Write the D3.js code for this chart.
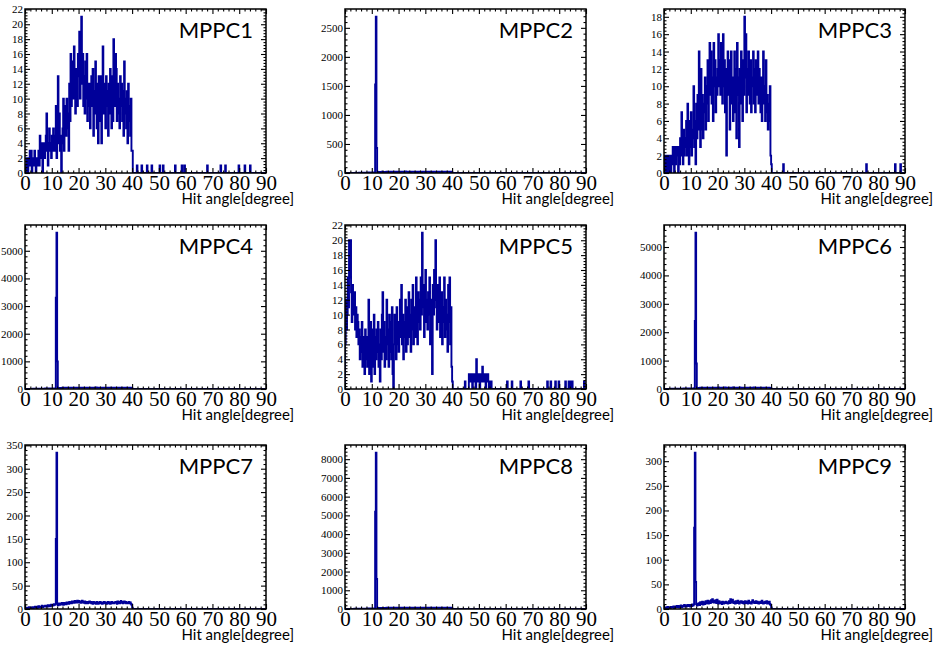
<!DOCTYPE html>
<html>
<head>
<meta charset="utf-8">
<script src="https://cdn.jsdelivr.net/npm/d3@7"></script>
<style>
  html, body { margin: 0; padding: 0; background: #ffffff; }
  svg { display: block; }
</style>
</head>
<body>
<svg id="chart" width="940" height="648"></svg>
<script>
// Hit-angle histograms for nine MPPC channels, 0.25 degree bins over 0-90 degrees.
const binWidth = 0.25;
const xMax = 90;
const xTickLabels = ["0", "10", "20", "30", "40", "50", "60", "70", "80", "90"];
const panelNames = ["MPPC1", "MPPC2", "MPPC3", "MPPC4", "MPPC5", "MPPC6", "MPPC7", "MPPC8", "MPPC9"];
const yMajorSteps = [2, 500, 2, 1000, 2, 1000, 50, 1000, 50];
const axisTitle = "Hit angle[degree]";

// Counts per bin from 0 degrees upward (bins beyond the list are empty).
const mppc1Counts = [
  1,0,2,1, 0,2,1,3, 1,3,0,2, 2,1,3,2, 0,2,1,2,
  3,1,5,2, 2,4,0,3, 4,2,3,5, 8,3,1,4, 6,3,4,2,
  5,3,6,4, 3,5,9,2, 6,13,4,8, 3,5,0,4, 6,10,3,7,
  9,5,10,6, 8,3,12,7, 16,9,11,15, 10,17,12,8, 14,11,9,16,
  13,19,10,14, 21,12,16,9, 13,8,15,10, 16,7,12,9, 12,6,10,13,
  9,14,5,11, 8,15,10,6, 12,4,13,9, 7,13,4,11, 17,8,12,10,
  6,13,9,11, 5,12,8,14, 10,6,13,7, 18,11,9,16, 14,7,12,8,
  10,6,13,9, 12,7,11,5, 15,8,10,6, 11,4,12,7, 9,5,10,3,
  3,0
];
const mppc1SingleHits = [41.75, 43.5, 45.5, 47.25, 50.25, 51.5, 56, 58.5, 59.5, 68, 73, 74.75, 79.75, 82, 84];

const mppc2Counts = [
  1,0,2,1, 0,1,2,0, 1,3,1,2, 2,1,3,2, 4,2,3,1, 3,4,2,5,
  3,4,5,3, 6,4,5,7, 4,6,5,8, 6,5,7,9, 6,8,7,10, 9,1525,2690,430,
  18,14,20,16, 15,19,17,21, 16,20,18,15, 19,17,22,18, 20,16,19,23,
  18,21,17,20, 22,19,24,18, 21,17,20,23, 19,22,18,21, 24,20,22,19,
  18,21,25,20, 22,19,21,17, 20,23,18,22, 19,21,24,20, 22,18,20,23,
  17,21,19,22, 20,24,18,21, 23,19,22,20, 18,22,20,24, 21,19,23,18,
  20,22,17,21, 24,19,21,20, 18,22,19,23, 21,17,20,22, 19,23,18,21,
  22,20,24,19, 17,21,19,22, 20,18,21,15, 4,0
];

const mppc3Counts = [
  2,0,1,2, 0,2,1,0, 2,1,0,2, 1,3,2,0, 3,1,2,3,
  2,0,3,1, 4,2,7,3, 1,5,2,4, 3,6,2,8, 4,1,6,3,
  7,2,5,4, 10,3,6,1, 8,4,9,5, 14,6,3,12, 5,9,4,8,
  7,11,5,10, 8,13,6,12, 15,9,14,8, 11,6,15,10, 13,7,11,9,
  12,16,10,13, 9,15,11,8, 16,10,13,7, 12,2,11,14, 9,13,5,12,
  14,8,11,6, 10,14,7,12, 4,15,9,11, 3,12,8,14, 10,6,13,9,
  18,11,16,7, 12,9,14,10, 8,13,7,11, 10,14,8,12, 7,13,9,11,
  14,8,12,10, 7,11,6,9, 14,8,10,6, 13,7,9,5, 8,6,10,2,
  1,0
];
const mppc3SingleHits = [44.5, 75.5, 86.25, 88.25];

const mppc4Counts = [
  2,1,3,2, 4,2,3,5, 3,6,4,5, 7,5,8,6, 9,7,10,8, 11,9,12,10,
  13,11,14,12, 15,13,16,14, 17,15,18,16, 19,17,20,18, 21,19,22,20, 23,21,3300,5650,
  1000,32,38,35, 40,36,42,38, 44,39,41,45, 42,47,43,40, 46,43,48,44,
  41,45,49,46, 47,44,42,48, 45,50,46,43, 48,44,47,51, 46,49,45,48,
  43,47,50,46, 49,45,48,44, 47,51,46,49, 44,48,45,50, 48,46,52,47,
  45,49,44,48, 50,46,49,45, 47,51,48,44, 46,49,45,50, 48,44,47,51,
  45,49,46,48, 50,47,44,49, 46,50,48,45, 49,45,51,47, 44,48,46,50,
  47,43,49,45, 48,46,44,47, 45,49,43,38, 9,0
];

const mppc5Counts = [
  6,12,8,10, 15,11,20,15, 20,13,9,14, 12,10,13,8, 11,7,10,9,
  6,8,4,7, 5,9,3,7, 6,2,8,4, 7,3,5,12, 2,6,9,1,
  8,3,6,10, 2,7,4,8, 5,9,3,6, 1,8,4,10, 13,5,9,3,
  7,4,12,6, 8,3,10,5, 9,4,11,2, 0,6,10,7, 4,11,6,9,
  5,8,12,7, 14,6,10,4, 9,7,12,5, 11,6,8,13, 7,10,5,12,
  8,14,6,9, 11,7,15,10, 6,13,9,12, 8,15,10,21, 11,14,7,13,
  16,9,12,8, 13,10,15,6, 12,9,2,14, 10,16,12,20, 11,8,14,9,
  12,15,7,10, 13,6,11,9, 15,7,12,8, 10,5,14,9, 15,6,11,3,
  1,0
];
// Second, smaller cluster of hits starting at 46 degrees.
const mppc5BumpStart = 46;
const mppc5BumpCounts = [
  0,2,1,2, 1,2,0,1, 2,1,2,0, 4,1,2,1, 2,0,1,2,
  1,3,2,1, 2,1,0,2, 1,2,1,0, 1,0,1,0
];
const mppc5SingleHits = [44.75, 60.5, 62.25, 65.5, 68.5, 75.5, 76.75, 78.5, 79.75, 82.25, 83.5, 84.25, 84.75, 89.25];

const mppc6Counts = [
  1,3,2,4, 3,2,5,3, 4,6,5,7, 5,8,6,7, 9,8,10,7, 11,10,9,12,
  13,11,12,14, 12,15,14,13, 16,14,17,15, 18,16,17,19, 20,18,21,19, 22,24,2400,5500,
  900,36,40,37, 41,38,43,40, 39,44,41,46, 43,40,45,42, 47,44,41,46,
  43,48,45,42, 46,49,44,47, 50,45,48,43, 46,51,47,44, 49,45,50,47,
  44,48,46,51, 47,43,49,46, 50,47,44,48, 46,49,45,51, 43,47,50,46,
  48,45,49,44, 47,51,46,48, 45,48,44,49, 50,46,48,45, 47,43,49,46,
  44,48,45,50, 49,46,51,47, 45,49,44,48, 47,50,46,43, 48,45,49,46,
  44,47,43,48, 46,42,47,44, 43,47,41,36, 8,0
];

const mppc7Counts = [
  2,3,1,2, 3,2,4,2, 3,1,3,4, 2,4,3,5, 3,4,2,5,
  6,4,5,3, 5,7,4,6, 6,5,7,6, 7,5,8,6, 8,6,7,9,
  7,9,8,10, 9,10,150,334, 12,8,12,10, 9,12,10,13, 11,9,13,10,
  12,10,14,11, 13,11,15,12, 14,12,16,13, 15,13,17,14, 16,14,18,15,
  17,14,16,13, 15,18,14,16, 13,16,12,15, 14,12,15,13, 16,13,15,12,
  14,11,15,13, 12,14,11,15, 13,11,14,12, 15,12,13,11, 14,12,15,13,
  12,14,11,13, 15,12,14,11, 13,15,12,14, 12,14,13,15, 14,11,16,13,
  15,12,14,17, 13,15,12,14, 16,13,15,12, 14,12,13,15, 12,14,11,9,
  3,0
];

const mppc8Counts = [
  3,2,4,3, 5,4,6,3, 7,5,8,6, 9,7,10,8, 11,9,13,10, 14,12,15,13,
  16,14,18,15, 19,17,20,18, 22,19,23,21, 24,22,26,23, 27,25,28,26, 30,5200,8340,1600,
  45,52,48,55, 50,57,53,59, 55,61,58,54, 62,57,64,60, 58,65,61,67,
  63,59,66,62, 68,64,60,66, 62,69,65,61, 67,63,70,66, 64,68,62,69,
  66,61,67,63, 70,65,62,68, 63,67,64,70, 66,62,69,65, 61,68,64,67,
  69,63,66,62, 65,70,64,68, 62,66,69,63, 67,64,61,68, 63,69,65,62,
  68,64,67,70, 62,66,63,69, 65,61,68,64, 69,66,62,67, 63,68,65,61,
  66,62,69,64, 61,67,63,66, 64,60,65,52, 12,0
];

const mppc9Counts = [
  2,3,1,3, 2,4,3,2, 3,2,4,3, 4,3,5,2, 3,5,4,6,
  4,6,5,3, 5,7,4,6, 6,5,8,6, 7,5,6,8, 6,8,7,5,
  8,6,9,7, 9,165,317,55, 10,7,11,9, 12,8,14,10, 11,15,9,13,
  14,10,16,12, 13,17,11,15, 16,12,18,14, 20,15,13,17, 14,18,12,19,
  15,11,16,13, 12,14,10,15, 13,11,14,12, 15,12,13,11, 14,16,12,20,
  17,13,19,14, 12,15,11,16, 14,12,17,13, 11,15,13,16, 14,12,15,11,
  13,16,12,14, 15,11,17,13, 12,14,11,15, 18,13,15,12, 14,16,12,15,
  13,11,14,12, 15,12,17,13, 11,14,12,15, 13,16,11,14, 12,15,10,8,
  3,0
];

const panelCounts = [mppc1Counts, mppc2Counts, mppc3Counts, mppc4Counts, mppc5Counts,
                     mppc6Counts, mppc7Counts, mppc8Counts, mppc9Counts];
const panelSingleHits = [mppc1SingleHits, [], mppc3SingleHits, [], mppc5SingleHits, [], [], [], []];

// Layout of the 3x3 grid of frames
const colLeft = [25, 345, 664];
const rowTop = [9, 225, 445];
const frameW = 241;
const frameH = 164;
const lineColor = "#000099";
const serif = "'Liberation Serif', 'DejaVu Serif', serif";
const sans = "Lato, 'Open Sans', sans-serif";

const nBins = Math.round(xMax / binWidth);
const binEdges = d3.range(nBins).map(i => i * binWidth);

function fullCounts(p) {
  const counts = new Array(nBins).fill(0);
  panelCounts[p].forEach((v, i) => { counts[i] = v; });
  panelSingleHits[p].forEach(a => { counts[Math.floor(a / binWidth)] += 1; });
  if (p === 4) {
    const start = Math.round(mppc5BumpStart / binWidth);
    mppc5BumpCounts.forEach((v, i) => { counts[start + i] += v; });
  }
  return counts;
}

const svg = d3.select("#chart");
const defs = svg.append("defs");

panelNames.forEach((name, p) => {
  const left = colLeft[p % 3];
  const top = rowTop[Math.floor(p / 3)];
  const counts = fullCounts(p);
  const yMax = d3.max(counts) * 1.05;
  const step = yMajorSteps[p];

  const x = d3.scaleLinear().domain([0, xMax]).range([0, frameW]);
  const y = d3.scaleLinear().domain([0, yMax]).range([frameH, 0]);

  const g = svg.append("g").attr("transform", `translate(${left},${top})`);

  defs.append("clipPath").attr("id", `clip${p}`)
    .append("rect").attr("x", 0).attr("y", 0).attr("width", frameW).attr("height", frameH);

  // Histogram outline
  const pts = [[0, 0]];
  counts.forEach((c, i) => pts.push([binEdges[i], c]));
  pts.push([xMax, 0]);
  const line = d3.line().x(d => x(d[0])).y(d => y(d[1])).curve(d3.curveStepAfter);
  g.append("path")
    .attr("clip-path", `url(#clip${p})`)
    .attr("d", line(pts))
    .attr("fill", "none")
    .attr("stroke", lineColor)
    .attr("stroke-width", 1.9)
    .attr("stroke-linejoin", "miter");

  // Tick values
  const xMajor = d3.range(0, xMax + 0.001, 10);
  const xMinor = d3.range(0, xMax + 0.001, 2).filter(v => v % 10 !== 0);
  const yMajor = d3.range(0, yMax + 1e-9, step);
  const minorStep = step / 5;
  const yMinor = d3.range(0, yMax + 1e-9, minorStep)
    .filter(v => Math.abs(v / step - Math.round(v / step)) > 1e-6);

  function styleAxis(sel) {
    sel.select(".domain").remove();
    sel.selectAll(".tick line").attr("stroke", "#000").attr("stroke-width", 1.1);
  }

  // Bottom axis with labels
  const xAxisG = g.append("g").attr("transform", `translate(0,${frameH})`)
    .call(d3.axisBottom(x).tickValues(xMajor).tickSize(-5).tickPadding(2)
      .tickFormat((d, i) => xTickLabels[i]));
  styleAxis(xAxisG);
  xAxisG.selectAll("text").attr("font-family", serif).attr("font-size", 21).attr("fill", "#000");
  const xMinorG = g.append("g").attr("transform", `translate(0,${frameH})`)
    .call(d3.axisBottom(x).tickValues(xMinor).tickSize(-2.5).tickFormat(""));
  styleAxis(xMinorG);
  // Top axis, ticks only
  const xTopG = g.append("g")
    .call(d3.axisTop(x).tickValues(xMajor).tickSize(-5).tickFormat(""));
  styleAxis(xTopG);
  const xTopMinorG = g.append("g")
    .call(d3.axisTop(x).tickValues(xMinor).tickSize(-2.5).tickFormat(""));
  styleAxis(xTopMinorG);

  // Left axis with labels
  const yAxisG = g.append("g")
    .call(d3.axisLeft(y).tickValues(yMajor).tickSize(-5).tickPadding(2).tickFormat(d3.format("d")));
  styleAxis(yAxisG);
  yAxisG.selectAll("text").attr("font-family", serif).attr("font-size", 11).attr("fill", "#000");
  const yMinorG = g.append("g")
    .call(d3.axisLeft(y).tickValues(yMinor).tickSize(-2.5).tickFormat(""));
  styleAxis(yMinorG);
  // Right axis, ticks only
  const yRightG = g.append("g").attr("transform", `translate(${frameW},0)`)
    .call(d3.axisRight(y).tickValues(yMajor).tickSize(-5).tickFormat(""));
  styleAxis(yRightG);
  const yRightMinorG = g.append("g").attr("transform", `translate(${frameW},0)`)
    .call(d3.axisRight(y).tickValues(yMinor).tickSize(-2.5).tickFormat(""));
  styleAxis(yRightMinorG);

  // Frame
  g.append("rect")
    .attr("x", 0).attr("y", 0).attr("width", frameW).attr("height", frameH)
    .attr("fill", "none").attr("stroke", "#000").attr("stroke-width", 1.5);

  // Channel label
  g.append("text")
    .attr("x", frameW - 13).attr("y", 29)
    .attr("text-anchor", "end")
    .attr("font-family", sans).attr("font-size", 22)
    .attr("fill", "#000")
    .text(name);

  // Axis title
  g.append("text")
    .attr("x", frameW + 28).attr("y", frameH + 31)
    .attr("text-anchor", "end")
    .attr("font-family", sans).attr("font-size", 15)
    .attr("fill", "#000")
    .text(axisTitle);
});
</script>
</body>
</html>
